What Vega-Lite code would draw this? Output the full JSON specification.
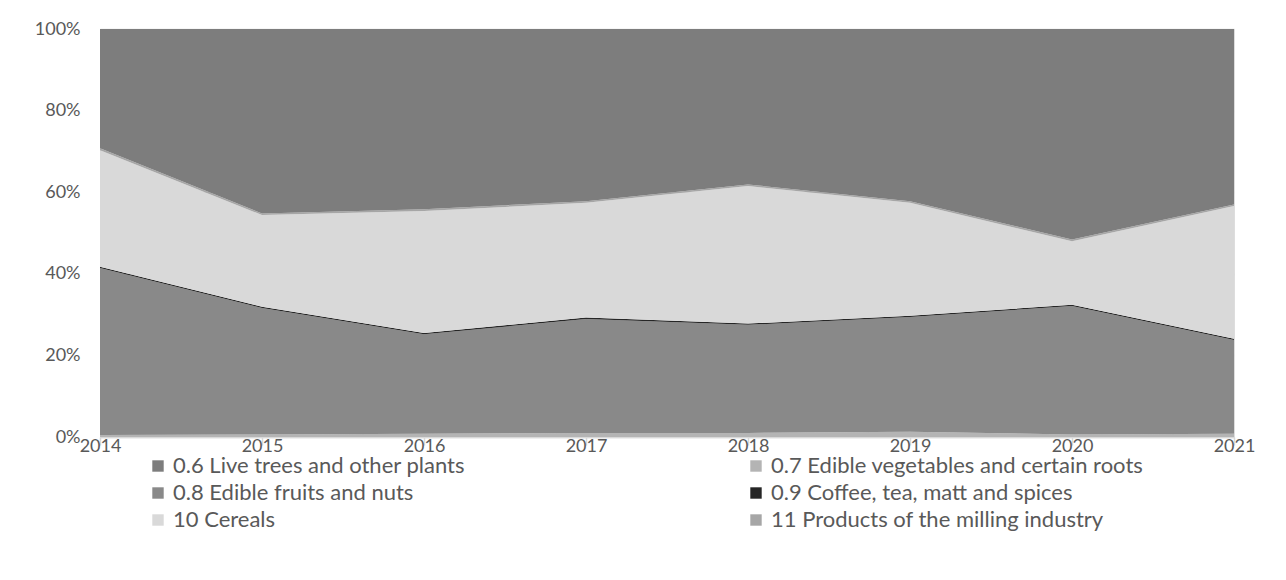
{
  "$schema": "https://vega.github.io/schema/vega-lite/v6.json",
  "width": 1134,
  "height": 408,
  "autosize": {"type": "none"},
  "padding": {"left": 100, "top": 29, "right": 52, "bottom": 143},
  "background": "white",
  "data": {
    "values": [
      {"year": "2014", "series": "0.7 Edible vegetables and certain roots", "value": 0.5},
      {"year": "2014", "series": "0.8 Edible fruits and nuts", "value": 40.9},
      {"year": "2014", "series": "0.9 Coffee, tea, matt and spices", "value": 0.3},
      {"year": "2014", "series": "10 Cereals", "value": 28.6},
      {"year": "2014", "series": "11 Products of the milling industry", "value": 0.5},
      {"year": "2014", "series": "0.6 Live trees and other plants", "value": 29.2},
      {"year": "2015", "series": "0.7 Edible vegetables and certain roots", "value": 0.6},
      {"year": "2015", "series": "0.8 Edible fruits and nuts", "value": 31.0},
      {"year": "2015", "series": "0.9 Coffee, tea, matt and spices", "value": 0.3},
      {"year": "2015", "series": "10 Cereals", "value": 22.5},
      {"year": "2015", "series": "11 Products of the milling industry", "value": 0.4},
      {"year": "2015", "series": "0.6 Live trees and other plants", "value": 45.2},
      {"year": "2016", "series": "0.7 Edible vegetables and certain roots", "value": 0.8},
      {"year": "2016", "series": "0.8 Edible fruits and nuts", "value": 24.4},
      {"year": "2016", "series": "0.9 Coffee, tea, matt and spices", "value": 0.3},
      {"year": "2016", "series": "10 Cereals", "value": 29.9},
      {"year": "2016", "series": "11 Products of the milling industry", "value": 0.4},
      {"year": "2016", "series": "0.6 Live trees and other plants", "value": 44.2},
      {"year": "2017", "series": "0.7 Edible vegetables and certain roots", "value": 1.0},
      {"year": "2017", "series": "0.8 Edible fruits and nuts", "value": 27.9},
      {"year": "2017", "series": "0.9 Coffee, tea, matt and spices", "value": 0.4},
      {"year": "2017", "series": "10 Cereals", "value": 28.1},
      {"year": "2017", "series": "11 Products of the milling industry", "value": 0.4},
      {"year": "2017", "series": "0.6 Live trees and other plants", "value": 42.2},
      {"year": "2018", "series": "0.7 Edible vegetables and certain roots", "value": 1.0},
      {"year": "2018", "series": "0.8 Edible fruits and nuts", "value": 26.5},
      {"year": "2018", "series": "0.9 Coffee, tea, matt and spices", "value": 0.3},
      {"year": "2018", "series": "10 Cereals", "value": 33.7},
      {"year": "2018", "series": "11 Products of the milling industry", "value": 0.4},
      {"year": "2018", "series": "0.6 Live trees and other plants", "value": 38.1},
      {"year": "2019", "series": "0.7 Edible vegetables and certain roots", "value": 1.3},
      {"year": "2019", "series": "0.8 Edible fruits and nuts", "value": 28.1},
      {"year": "2019", "series": "0.9 Coffee, tea, matt and spices", "value": 0.3},
      {"year": "2019", "series": "10 Cereals", "value": 27.7},
      {"year": "2019", "series": "11 Products of the milling industry", "value": 0.4},
      {"year": "2019", "series": "0.6 Live trees and other plants", "value": 42.2},
      {"year": "2020", "series": "0.7 Edible vegetables and certain roots", "value": 0.6},
      {"year": "2020", "series": "0.8 Edible fruits and nuts", "value": 31.5},
      {"year": "2020", "series": "0.9 Coffee, tea, matt and spices", "value": 0.3},
      {"year": "2020", "series": "10 Cereals", "value": 15.6},
      {"year": "2020", "series": "11 Products of the milling industry", "value": 0.4},
      {"year": "2020", "series": "0.6 Live trees and other plants", "value": 51.6},
      {"year": "2021", "series": "0.7 Edible vegetables and certain roots", "value": 0.8},
      {"year": "2021", "series": "0.8 Edible fruits and nuts", "value": 23.0},
      {"year": "2021", "series": "0.9 Coffee, tea, matt and spices", "value": 0.3},
      {"year": "2021", "series": "10 Cereals", "value": 32.5},
      {"year": "2021", "series": "11 Products of the milling industry", "value": 0.4},
      {"year": "2021", "series": "0.6 Live trees and other plants", "value": 43.0}
    ]
  },
  "transform": [
    {"calculate": "indexof(['0.7 Edible vegetables and certain roots','0.8 Edible fruits and nuts','0.9 Coffee, tea, matt and spices','10 Cereals','11 Products of the milling industry','0.6 Live trees and other plants'], datum.series)", "as": "stackOrder"}
  ],
  "mark": {"type": "area", "interpolate": "linear"},
  "encoding": {
    "x": {
      "field": "year",
      "type": "ordinal",
      "scale": {"type": "point", "padding": 0},
      "axis": {
        "title": null,
        "labelAngle": 0,
        "labelFont": "Lato",
        "labelFontSize": 18,
        "labelColor": "#595959",
        "labelPadding": -8,
        "domainColor": "#d9d9d9",
        "domainWidth": 1.5,
        "tickColor": "#d9d9d9",
        "tickSize": 8,
        "tickWidth": 1.5,
        "grid": false
      }
    },
    "y": {
      "field": "value",
      "type": "quantitative",
      "stack": "normalize",
      "scale": {"domain": [0, 1]},
      "axis": {
        "title": null,
        "format": ".0%",
        "values": [0, 0.2, 0.4, 0.6, 0.8, 1],
        "labelFont": "Lato",
        "labelFontSize": 18,
        "labelColor": "#595959",
        "labelPadding": 20,
        "domain": false,
        "ticks": false,
        "grid": true,
        "gridColor": "#d9d9d9",
        "gridWidth": 1.5
      }
    },
    "color": {
      "field": "series",
      "type": "nominal",
      "scale": {
        "domain": [
          "0.6 Live trees and other plants",
          "0.8 Edible fruits and nuts",
          "10 Cereals",
          "0.7 Edible vegetables and certain roots",
          "0.9 Coffee, tea, matt and spices",
          "11 Products of the milling industry"
        ],
        "range": ["#7d7d7d", "#898989", "#d9d9d9", "#b4b4b4", "#262626", "#a6a6a6"]
      },
      "legend": {
        "title": null,
        "orient": "none",
        "legendX": 47,
        "legendY": 426,
        "columns": 2,
        "columnPadding": 280,
        "rowPadding": 5,
        "symbolType": "square",
        "symbolSize": 130,
        "symbolStrokeWidth": 0,
        "labelFont": "Lato",
        "labelFontSize": 22,
        "labelColor": "#595959",
        "labelOffset": 4,
        "labelLimit": 500
      }
    },
    "order": {"field": "stackOrder", "type": "quantitative"}
  }
}
